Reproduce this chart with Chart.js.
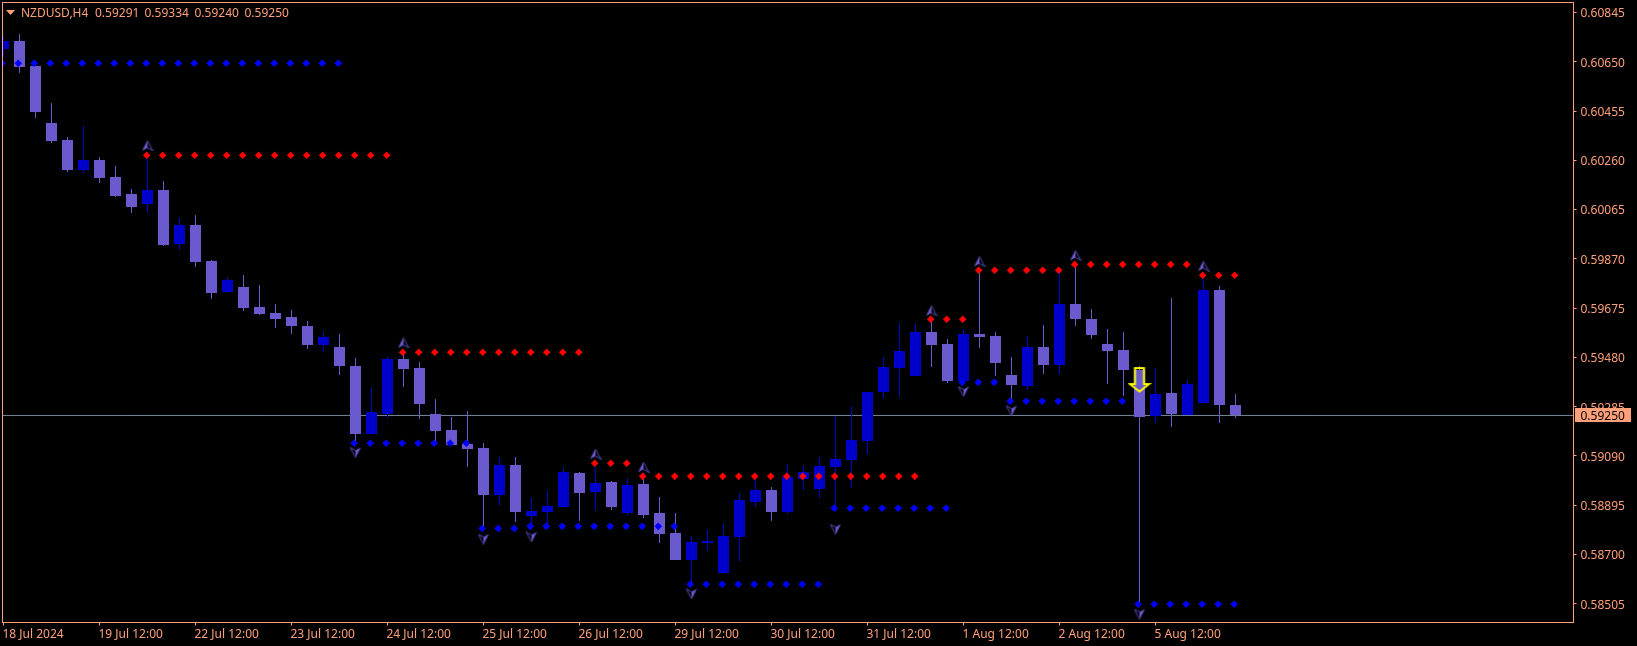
<!DOCTYPE html>
<html>
<head>
<meta charset="utf-8">
<title>NZDUSD,H4</title>
<script src="https://cdn.jsdelivr.net/npm/chart.js@4"></script>
<style>
  html, body { margin: 0; padding: 0; background: #000; }
  canvas { display: block; }
</style>
</head>
<body>
<canvas id="chart" width="1637" height="646"></canvas>
<script>
const headerTexts = ["NZDUSD,H4", "0.59291", "0.59334", "0.59240", "0.59250"];
const bidPrice = 0.5925;

// one value per H4 candle, oldest first
const opens = [
  0.60701, 0.60732, 0.60633, 0.60408, 0.6034, 0.60222, 0.60261, 0.60194, 0.60127, 0.60087,
  0.60143, 0.59929, 0.60004, 0.59861, 0.59739, 0.59759, 0.59679, 0.59656, 0.5964, 0.59604,
  0.59529, 0.59521, 0.59446, 0.59177, 0.59256, 0.59474, 0.59438, 0.59256, 0.59193, 0.59137,
  0.59121, 0.58935, 0.59054, 0.58852, 0.58868, 0.58888, 0.59022, 0.58947, 0.58987, 0.58864,
  0.58979, 0.58864, 0.58785, 0.58678, 0.58745, 0.58627, 0.58769, 0.58908, 0.58955, 0.58868,
  0.58999, 0.58959, 0.59046, 0.59074, 0.59149, 0.59343, 0.59438, 0.59406, 0.5958, 0.59533,
  0.59386, 0.59573, 0.59565, 0.5941, 0.59367, 0.59521, 0.5945, 0.59691, 0.59632, 0.59533,
  0.59509, 0.5943, 0.59248, 0.59339, 0.59252, 0.59299, 0.59747, 0.59291,
];
const highs = [
  0.60753, 0.6076, 0.6064, 0.60487, 0.60352, 0.60396, 0.60273, 0.60237, 0.60146, 0.60281,
  0.60178, 0.60032, 0.60044, 0.59865, 0.59798, 0.59806, 0.59766, 0.59691, 0.59668, 0.59624,
  0.59584, 0.59573, 0.59478, 0.59359, 0.59482, 0.59497, 0.59462, 0.59315, 0.59244, 0.59268,
  0.59141, 0.59086, 0.59086, 0.58923, 0.58951, 0.59046, 0.59026, 0.59054, 0.58989, 0.59003,
  0.59022, 0.58927, 0.58864, 0.58773, 0.58797, 0.58821, 0.58943, 0.59007, 0.58967, 0.59058,
  0.59054, 0.59086, 0.59248, 0.59284, 0.59343, 0.59482, 0.59616, 0.59612, 0.59628, 0.59553,
  0.59592, 0.59818, 0.5958, 0.59482, 0.59565, 0.59608, 0.59814, 0.59842, 0.59671, 0.59592,
  0.5958, 0.59446, 0.59438, 0.59715, 0.5939, 0.59794, 0.59763, 0.59334,
];
const lows = [
  0.60669, 0.60607, 0.60429, 0.60329, 0.60214, 0.6021, 0.6017, 0.60115, 0.60051, 0.60055,
  0.59921, 0.59905, 0.59838, 0.59711, 0.59739, 0.59664, 0.59648, 0.59596, 0.59573, 0.59513,
  0.59501, 0.5941, 0.59145, 0.59177, 0.5924, 0.59363, 0.59236, 0.59141, 0.59133, 0.59046,
  0.58809, 0.58896, 0.58828, 0.58797, 0.58817, 0.58888, 0.58832, 0.58872, 0.58876, 0.58856,
  0.58844, 0.58745, 0.58678, 0.58583, 0.58714, 0.58627, 0.58674, 0.58888, 0.58832, 0.5886,
  0.58955, 0.58923, 0.58884, 0.58963, 0.59098, 0.59319, 0.59323, 0.59406, 0.59442, 0.59379,
  0.59386, 0.59517, 0.59406, 0.59311, 0.59351, 0.59414, 0.59414, 0.59604, 0.59553, 0.59375,
  0.59327, 0.58504, 0.5922, 0.59204, 0.59252, 0.59299, 0.5922, 0.5924,
];
const closes = [
  0.60732, 0.60629, 0.60452, 0.60336, 0.60222, 0.60261, 0.6019, 0.60119, 0.60075, 0.60143,
  0.59925, 0.60004, 0.59858, 0.59735, 0.59786, 0.59675, 0.59652, 0.59632, 0.59604, 0.59529,
  0.59561, 0.59446, 0.59177, 0.59264, 0.59474, 0.59434, 0.59295, 0.59189, 0.59133, 0.59117,
  0.58935, 0.59054, 0.58868, 0.58872, 0.58892, 0.59026, 0.58943, 0.58983, 0.58888, 0.58975,
  0.58856, 0.58781, 0.58678, 0.58749, 0.58753, 0.58773, 0.58915, 0.58955, 0.58868, 0.59007,
  0.59026, 0.5905, 0.59078, 0.59153, 0.59343, 0.59442, 0.59505, 0.5958, 0.59529, 0.59386,
  0.59573, 0.59561, 0.59458, 0.59371, 0.59521, 0.5945, 0.59691, 0.59632, 0.59569, 0.59505,
  0.5943, 0.59244, 0.59335, 0.59256, 0.59375, 0.59747, 0.59291, 0.5925,
];

// indicator dots, one value per candle (null = no dot)
const resistanceDots = [
  null, null, null, null, null, null, null, null, null, 0.6028,
  0.6028, 0.6028, 0.6028, 0.6028, 0.6028, 0.6028, 0.6028, 0.6028, 0.6028, 0.6028,
  0.6028, 0.6028, 0.6028, 0.6028, 0.6028, 0.595, 0.595, 0.595, 0.595, 0.595,
  0.595, 0.595, 0.595, 0.595, 0.595, 0.595, 0.595, 0.59061, 0.59061, 0.59061,
  0.59009, 0.59009, 0.59009, 0.59009, 0.59009, 0.59009, 0.59009, 0.59009, 0.59009, 0.59009,
  0.59009, 0.59009, 0.59009, 0.59009, 0.59009, 0.59009, 0.59009, 0.59009, 0.59631, 0.59631,
  0.59631, 0.59825, 0.59825, 0.59825, 0.59825, 0.59825, 0.59825, 0.59848, 0.59848, 0.59848,
  0.59848, 0.59848, 0.59848, 0.59848, 0.59848, 0.59805, 0.59805, 0.59805,
];
const supportDots = [
  0.60644, 0.60644, 0.60644, 0.60644, 0.60644, 0.60644, 0.60644, 0.60644, 0.60644, 0.60644,
  0.60644, 0.60644, 0.60644, 0.60644, 0.60644, 0.60644, 0.60644, 0.60644, 0.60644, 0.60644,
  0.60644, 0.60644, 0.5914, 0.5914, 0.5914, 0.5914, 0.5914, 0.5914, 0.5914, 0.5914,
  0.58803, 0.58803, 0.58803, 0.58811, 0.58811, 0.58811, 0.58811, 0.58811, 0.58811, 0.58811,
  0.58811, 0.58811, 0.58811, 0.58582, 0.58582, 0.58582, 0.58582, 0.58582, 0.58582, 0.58582,
  0.58582, 0.58582, 0.58883, 0.58883, 0.58883, 0.58883, 0.58883, 0.58883, 0.58883, 0.58883,
  0.59381, 0.59381, 0.59381, 0.59306, 0.59306, 0.59306, 0.59306, 0.59306, 0.59306, 0.59306,
  0.59306, 0.58503, 0.58503, 0.58503, 0.58503, 0.58503, 0.58503, 0.58503,
];

// fractal arrows and the yellow signal arrow
const upArrowBars = [9, 25, 37, 40, 58, 61, 67, 75];
const upArrowPrices = [0.60317, 0.59537, 0.59097, 0.59045, 0.59664, 0.59859, 0.59883, 0.59841];
const downArrowBars = [22, 30, 33, 43, 52, 60, 63, 71];
const downArrowPrices = [0.59104, 0.58761, 0.58769, 0.58544, 0.58800, 0.59345, 0.59269, 0.58464];
const signalBars = [71];
const signalPrices = [0.5939];

const xTickBars = [0, 6, 12, 18, 24, 30, 36, 42, 48, 54, 60, 66, 72];
const xTickLabels = [
  "18 Jul 2024", "19 Jul 12:00", "22 Jul 12:00", "23 Jul 12:00", "24 Jul 12:00",
  "25 Jul 12:00", "26 Jul 12:00", "29 Jul 12:00", "30 Jul 12:00", "31 Jul 12:00",
  "1 Aug 12:00", "2 Aug 12:00", "5 Aug 12:00",
];
const yTicks = [
  0.60845, 0.6065, 0.60455, 0.6026, 0.60065, 0.5987, 0.59675,
  0.5948, 0.59285, 0.5909, 0.58895, 0.587, 0.58505,
];

const FRAME = "#FFA07A";
const BULL = "#0000CD";
const BEAR = "#6A5ACD";
const FONT = "'Noto Sans', sans-serif";
const headerX = [21, 95, 144.5, 194.5, 244.5];

// frame is 1571 px wide, candles sit 16 px apart, first one at x=3.5
const xMin = -0.0625;
const xMax = 98.125;

function makeArrow() {
  const c = document.createElement("canvas");
  c.width = 12;
  c.height = 11;
  const g = c.getContext("2d");
  g.fillStyle = BEAR;
  g.beginPath();
  g.moveTo(6, 0);
  g.lineTo(0.5, 10.5);
  g.lineTo(6, 7.5);
  g.closePath();
  g.fill();
  g.strokeStyle = "#3F3A8C";
  g.lineWidth = 1.2;
  g.beginPath();
  g.moveTo(6, 0.5);
  g.lineTo(11.2, 10.2);
  g.lineTo(6, 7.5);
  g.stroke();
  return c;
}

function makeSignalArrow() {
  const c = document.createElement("canvas");
  c.width = 24;
  c.height = 28;
  const g = c.getContext("2d");
  g.strokeStyle = "#FFFF00";
  g.lineWidth = 2;
  g.beginPath();
  g.moveTo(7.5, 2);
  g.lineTo(16.5, 2);
  g.lineTo(16.5, 18);
  g.lineTo(21.5, 18);
  g.lineTo(12, 25.5);
  g.lineTo(2.5, 18);
  g.lineTo(7.5, 18);
  g.closePath();
  g.stroke();
  return c;
}

function dotData(values, shift) {
  let out = [];
  values.forEach(function (v, i) {
    if (v !== null) {
      out.push({ x: i + shift, y: v });
    }
  });
  return out;
}

function markerData(bars, prices) {
  return bars.map(function (b, i) {
    return { x: b, y: prices[i] };
  });
}

function fitAxis(scale, size) {
  if (scale.isHorizontal()) {
    scale.height = size;
  } else {
    scale.width = size;
  }
  scale.paddingTop = 0;
  scale.paddingBottom = 0;
  scale.paddingLeft = 0;
  scale.paddingRight = 0;
}

// snaps candle edges to whole pixels, MT4 draws them without antialiasing
const crispBars = {
  id: "crispBars",
  afterDatasetsUpdate(chart) {
    chart.getSortedVisibleDatasetMetas().forEach(function (meta) {
      if (meta.type !== "bar") return;
      meta.data.forEach(function (el) {
        el.y = Math.round(el.y);
        el.base = Math.round(el.base);
      });
    });
  },
};

const chartDecor = {
  id: "chartDecor",
  afterDraw(chart) {
    const ctx = chart.ctx;
    const a = chart.chartArea;
    ctx.save();
    ctx.strokeStyle = FRAME;
    ctx.lineWidth = 1;
    ctx.strokeRect(a.left, a.top, a.right - a.left, a.bottom - a.top);

    // little menu triangle and symbol line
    ctx.fillStyle = FRAME;
    ctx.beginPath();
    ctx.moveTo(6, 10);
    ctx.lineTo(15, 10);
    ctx.lineTo(10.5, 15);
    ctx.closePath();
    ctx.fill();
    ctx.font = "12px " + FONT;
    ctx.textBaseline = "middle";
    ctx.textAlign = "left";
    headerTexts.forEach(function (t, i) {
      ctx.fillText(t, headerX[i], 14);
    });

    // current price tag
    const y = Math.floor(chart.scales.y.getPixelForValue(bidPrice));
    ctx.fillRect(1575, y - 7, 56, 14);
    ctx.fillStyle = "#000";
    ctx.fillText(bidPrice.toFixed(5), 1580.5, y + 1.5);
    ctx.restore();
  },
};

new Chart(document.getElementById("chart"), {
  type: "bar",
  data: {
    datasets: [
      {
        type: "scatter",
        data: markerData(signalBars, signalPrices),
        pointStyle: makeSignalArrow(),
        pointRadius: 10,
      },
      {
        type: "scatter",
        data: markerData(upArrowBars, upArrowPrices),
        pointStyle: makeArrow(),
        pointRadius: 5,
      },
      {
        type: "scatter",
        data: markerData(downArrowBars, downArrowPrices),
        pointStyle: makeArrow(),
        pointRotation: 180,
        pointRadius: 5,
      },
      {
        type: "scatter",
        data: dotData(resistanceDots, -0.05),
        pointStyle: "rectRot",
        pointRadius: 3.8,
        backgroundColor: "#FF0000",
        borderWidth: 0,
      },
      {
        type: "scatter",
        data: dotData(supportDots, -0.08),
        pointStyle: "rectRot",
        pointRadius: 3.8,
        backgroundColor: "#0000FF",
        borderWidth: 0,
      },
      {
        data: opens.map((o, i) => ({ x: i, y: [o, closes[i]] })),
        backgroundColor: opens.map((o, i) => (closes[i] >= o ? BULL : BEAR)),
        grouped: false,
        categoryPercentage: 1,
        barPercentage: 11 / 16,
      },
      {
        data: lows.map((l, i) => ({ x: i, y: [l, highs[i]] })),
        backgroundColor: opens.map((o, i) => (closes[i] >= o ? BULL : BEAR)),
        grouped: false,
        categoryPercentage: 1,
        barPercentage: 1 / 16,
      },
      {
        type: "line",
        data: [
          { x: xMin, y: bidPrice },
          { x: xMax, y: bidPrice },
        ],
        borderColor: "#778899",
        borderWidth: 1,
        pointRadius: 0,
      },
    ],
  },
  options: {
    responsive: false,
    devicePixelRatio: 1,
    animation: false,
    layout: { autoPadding: false, padding: { left: 2.5, top: 2.5, right: 0, bottom: 0 } },
    plugins: { legend: { display: false }, tooltip: { enabled: false } },
    events: [],
    scales: {
      x: {
        type: "linear",
        offset: false,
        min: xMin,
        max: xMax,
        afterBuildTicks(axis) {
          axis.ticks = xTickBars.map((v) => ({ value: v }));
        },
        afterFit(axis) {
          fitAxis(axis, 23.5);
        },
        grid: { offset: false, drawOnChartArea: false, color: FRAME, tickLength: 3 },
        border: { display: false },
        ticks: {
          autoSkip: false,
          maxRotation: 0,
          align: "start",
          color: FRAME,
          padding: 2,
          labelOffset: -1,
          font: { family: FONT, size: 12 },
          callback(value, index) {
            return xTickLabels[index];
          },
        },
      },
      y: {
        position: "right",
        min: 0.584305,
        max: 0.608846,
        afterBuildTicks(axis) {
          axis.ticks = yTicks.map((v) => ({ value: v }));
        },
        afterFit(axis) {
          fitAxis(axis, 63.5);
        },
        grid: { drawOnChartArea: false, color: FRAME, tickLength: 3 },
        border: { display: false },
        ticks: {
          autoSkip: false,
          color: FRAME,
          padding: 4,
          labelOffset: 1.5,
          font: { family: FONT, size: 12 },
          callback(value) {
            return value.toFixed(5);
          },
        },
      },
    },
  },
  plugins: [crispBars, chartDecor],
});
</script>
</body>
</html>
